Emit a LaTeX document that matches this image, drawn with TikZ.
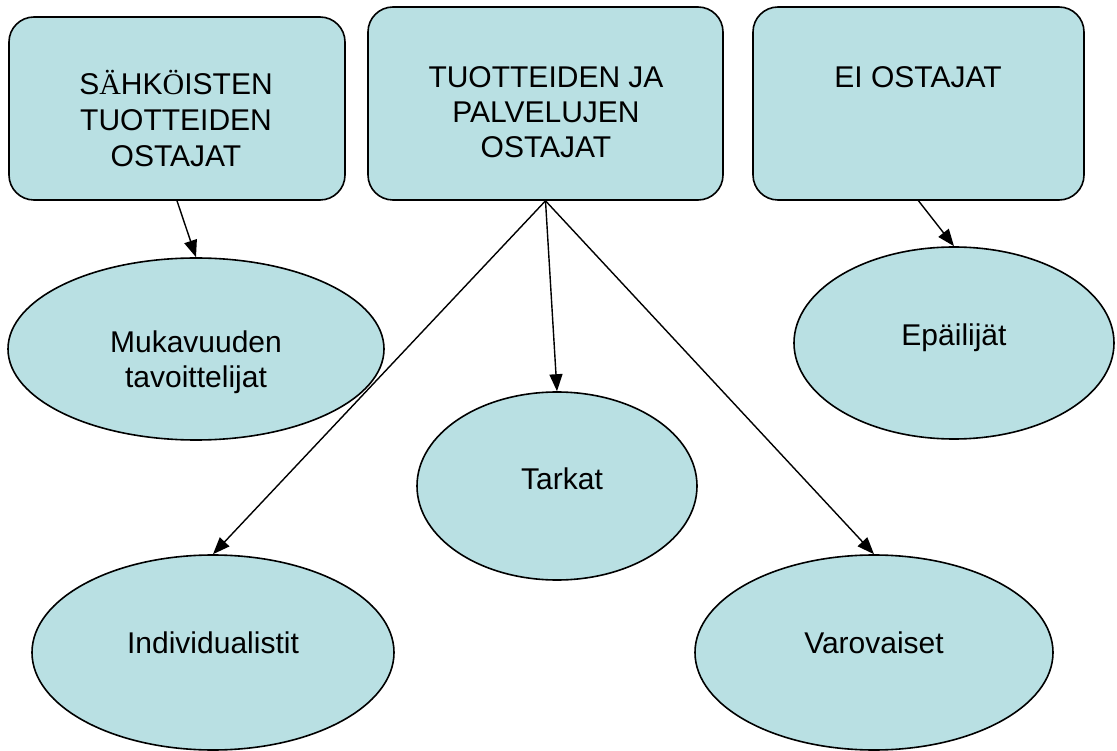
\documentclass[tikz,border=0pt]{standalone}
\usepackage{fontspec}
\setmainfont{Liberation Sans}
\newfontfamily\accfont{Liberation Serif}
\usetikzlibrary{shapes.geometric,arrows.meta}
\definecolor{boxfill}{RGB}{185,224,227}
\tikzset{
  box/.style={draw=black, fill=boxfill, line width=1.6pt, rounded corners=25pt, rectangle, inner sep=0pt},
  oval/.style={draw=black, fill=boxfill, line width=1.6pt, ellipse, inner sep=0pt},
  lbl/.style={font=\fontsize{30}{36}\selectfont, align=center, inner sep=0pt},
  conn/.style={line width=1.4pt, -{Triangle[length=17pt,width=13pt]}}
}
\begin{document}
\begin{tikzpicture}[x=1pt,y=-1pt]
\useasboundingbox (0,0) rectangle (1117,751);
% boxes
\node[box, minimum width=336pt, minimum height=183pt] (b1) at (177,108.5) {};
\node[box, minimum width=355pt, minimum height=193pt] (b2) at (545.5,103.5) {};
\node[box, minimum width=331pt, minimum height=193pt] (b3) at (918.5,103.5) {};
% ellipses
\node[oval, minimum width=376pt, minimum height=182pt] (e1) at (196,349) {};
\node[oval, minimum width=280pt, minimum height=188pt] (e2) at (557,486) {};
\node[oval, minimum width=320pt, minimum height=192pt] (e3) at (954,343) {};
\node[oval, minimum width=362pt, minimum height=195pt] (e4) at (213,652.5) {};
\node[oval, minimum width=358pt, minimum height=195pt] (e5) at (874,652.5) {};
% texts
\node[lbl, anchor=base] (t1a) at (176,95) {S{\accfont Ä}HK{\accfont Ö}ISTEN};
\node[lbl, anchor=base] (t1b) at (176,131) {TUOTTEIDEN};
\node[lbl, anchor=base] (t1c) at (176,167) {OSTAJAT};
\node[lbl, anchor=base] (t2a) at (546,88) {TUOTTEIDEN JA};
\node[lbl, anchor=base] (t2b) at (546,123) {PALVELUJEN};
\node[lbl, anchor=base] (t2c) at (546,158) {OSTAJAT};
\node[lbl, anchor=base] (t3) at (918,88) {EI OSTAJAT};
\node[lbl, anchor=base] (t4a) at (196,353) {Mukavuuden};
\node[lbl, anchor=base] (t4b) at (196,388) {tavoittelijat};
\node[lbl, anchor=base] (t5) at (954,346) {Epäilijät};
\node[lbl, anchor=base] (t6) at (562,489) {Tarkat};
\node[lbl, anchor=base] (t7) at (213,653) {Individualistit};
\node[lbl, anchor=base] (t8) at (874,653) {Varovaiset};
% connectors
\draw[conn] (b1.south) -- (e1.north);
\draw[conn] (b2.south) -- (e4.north);
\draw[conn] (b2.south) -- (e2.north);
\draw[conn] (b2.south) -- (e5.north);
\draw[conn] (b3.south) -- (e3.north);
\end{tikzpicture}
\end{document}
